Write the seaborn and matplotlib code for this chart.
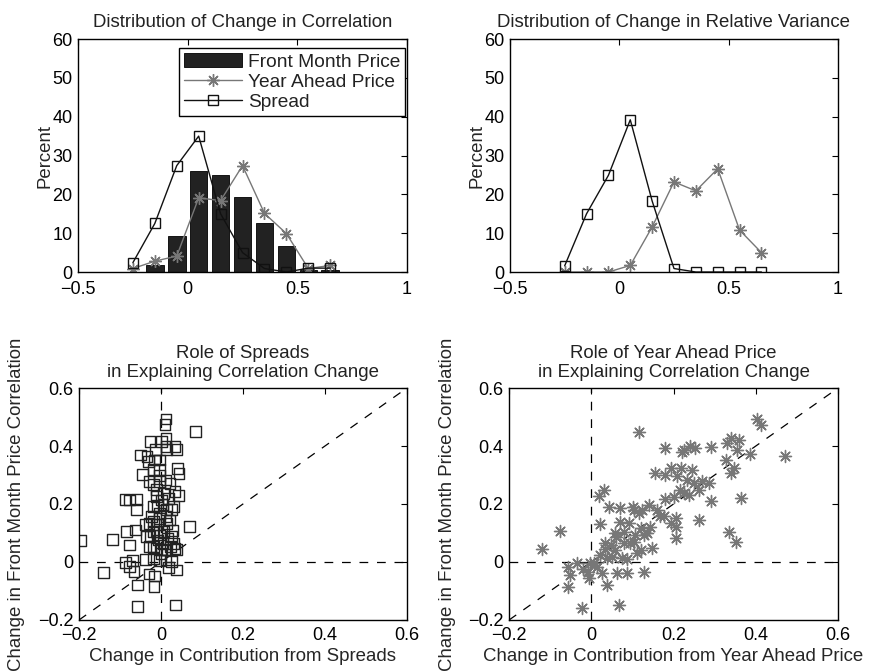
import matplotlib
matplotlib.use("Agg")
import matplotlib.pyplot as plt
import pandas as pd
import seaborn as sns

# bin centres for the two distribution panels
bin_centers = [-0.25, -0.15, -0.05, 0.05, 0.15, 0.25, 0.35, 0.45, 0.55, 0.65]

# distribution of change in correlation (percent)
corr_front = [0.0, 1.7, 9.2, 25.9, 25.0, 19.2, 12.5, 6.6, 0.6, 0.6]
corr_year = [0.9, 2.8, 4.1, 19.1, 18.4, 27.4, 15.1, 9.9, 0.9, 1.7]
corr_spread = [2.4, 12.5, 27.4, 35.0, 15.0, 5.0, 0.9, 0.0, 1.0, 1.0]

# distribution of change in relative variance (percent)
var_year = [0.0, 0.0, 0.0, 1.7, 11.6, 23.2, 20.9, 26.6, 10.8, 5.0]
var_spread = [1.6, 15.0, 24.9, 39.2, 18.3, 0.9, 0.0, 0.0, 0.0, 0.0]

# role of spreads: change in contribution from spreads vs change in front month correlation
spread_x = [-0.197, -0.141, -0.119, -0.088, -0.076, -0.060, -0.060, -0.084, -0.063, -0.076,
            -0.086, -0.076, -0.069, -0.066, -0.057, -0.058, -0.050, -0.034, -0.045, -0.027,
            0.001, 0.012, 0.010, 0.012, -0.013, -0.015, -0.018, -0.003, -0.004, -0.029,
            -0.019, -0.011, 0.012, 0.012, 0.014, 0.034, 0.038, 0.040, 0.044, 0.034,
            0.043, 0.085, 0.069, -0.019, -0.009, 0.005, 0.014, 0.026, -0.003, 0.012,
            -0.037, -0.029, -0.019, -0.009, 0.014, -0.027, -0.019, -0.003, 0.007, 0.026,
            0.030, -0.028, -0.019, -0.011, 0.001, 0.014, 0.023, 0.038, -0.037, -0.018,
            -0.003, 0.012, 0.026, 0.018, 0.038, -0.029, -0.015, -0.017, 0.036, -0.011,
            0.001, 0.007, 0.018, -0.003, 0.020, 0.030, -0.023, -0.011, 0.015, 0.005,
            -0.007, -0.035, 0.034, 0.000, -0.031, -0.003, 0.022, -0.003, 0.028]
spread_y = [0.073, -0.037, 0.078, 0.216, 0.214, 0.216, 0.182, 0.105, 0.110, 0.059,
            -0.002, -0.016, 0.005, -0.033, -0.079, -0.154, 0.369, 0.364, 0.303, 0.416,
            0.416, 0.493, 0.473, 0.427, 0.387, 0.352, 0.320, 0.320, 0.297, 0.277,
            0.266, 0.249, 0.283, 0.398, 0.387, 0.398, 0.389, 0.323, 0.306, 0.243,
            0.229, 0.450, 0.122, 0.191, 0.195, 0.197, 0.182, 0.180, 0.168, 0.157,
            0.128, 0.134, 0.139, 0.128, 0.134, 0.087, 0.105, 0.093, 0.105, 0.087,
            0.064, 0.053, 0.053, 0.047, 0.044, 0.041, 0.053, 0.044, 0.009, 0.013,
            0.005, 0.007, 0.001, -0.018, -0.028, -0.041, -0.048, -0.085, -0.148, 0.226,
            0.214, 0.237, 0.220, 0.151, 0.145, 0.191, 0.157, 0.105, 0.082, 0.064,
            0.076, 0.087, 0.047, 0.030, 0.346, 0.277, 0.272, 0.352, 0.108]

# role of year ahead price
year_x = [-0.121, -0.076, -0.056, -0.052, -0.056, -0.034, -0.022, -0.007, -0.005, 0.018,
          0.030, 0.022, 0.044, 0.034, 0.034, 0.022, 0.014, 0.026, 0.038, 0.048,
          0.061, 0.058, 0.069, 0.069, 0.063, 0.067, 0.075, 0.086, 0.087, 0.079,
          0.091, 0.102, 0.104, 0.104, 0.111, 0.115, 0.115, 0.120, 0.128, 0.128,
          0.140, 0.142, 0.148, 0.156, 0.168, 0.180, 0.180, 0.180, 0.193, 0.205,
          0.207, 0.207, 0.209, 0.215, 0.219, 0.221, 0.225, 0.233, 0.237, 0.241,
          0.245, 0.253, 0.262, 0.262, 0.268, 0.287, 0.291, 0.291, 0.328, 0.331,
          0.336, 0.340, 0.340, 0.346, 0.351, 0.355, 0.359, 0.363, 0.387, 0.403,
          0.413, 0.472, 0.095, 0.107, 0.120, 0.136, 0.160, 0.176, 0.193, 0.124,
          0.050, 0.058, 0.079, 0.007, -0.002, 0.038, -0.019, 0.200, 0.249, 0.225]
year_y = [0.045, 0.107, -0.016, -0.045, -0.087, -0.002, -0.157, -0.033, -0.054, 0.228,
          0.249, 0.131, 0.191, 0.064, 0.044, 0.024, -0.016, -0.037, -0.079, 0.059,
          0.087, 0.101, 0.139, 0.185, -0.037, -0.148, 0.013, -0.037, 0.009, 0.105,
          0.134, 0.191, 0.180, 0.070, 0.030, 0.450, 0.168, 0.041, 0.093, -0.033,
          0.197, 0.122, 0.047, 0.306, 0.157, 0.300, 0.393, 0.216, 0.323, 0.151,
          0.120, 0.082, 0.295, 0.249, 0.323, 0.381, 0.387, 0.283, 0.231, 0.401,
          0.318, 0.393, 0.249, 0.145, 0.280, 0.272, 0.396, 0.212, 0.352, 0.410,
          0.105, 0.427, 0.306, 0.323, 0.070, 0.387, 0.421, 0.220, 0.373, 0.493,
          0.473, 0.364, 0.064, 0.093, 0.116, 0.099, 0.180, 0.157, 0.134, 0.180,
          0.018, 0.041, 0.064, -0.005, -0.005, 0.013, -0.025, 0.225, 0.272, 0.237]

sns.set_theme(style="white")
plt.rcParams["font.family"] = ["Liberation Sans", "DejaVu Sans"]
plt.rcParams.update({
    "xtick.direction": "in",
    "ytick.direction": "in",
    "xtick.top": True,
    "ytick.right": True,
    "xtick.major.size": 4,
    "ytick.major.size": 4,
    "xtick.major.width": 0.8,
    "ytick.major.width": 0.8,
    "axes.edgecolor": "black",
    "axes.linewidth": 1.0,
    "xtick.color": "black",
    "ytick.color": "black",
    "text.color": "#222222",
})

asterisk = (8, 2, 0)
TICK = 13
LABEL = 13.4
TITLE = 13.4
GRAY = "#777777"
DARK = "#111111"
MINUS = "\u2212"

fig = plt.figure(figsize=(8.69, 6.72), dpi=100)
ax_tl = fig.add_axes([0.0898, 0.5952, 0.3786, 0.3467])
ax_tr = fig.add_axes([0.5869, 0.5952, 0.3774, 0.3467])
ax_bl = fig.add_axes([0.0909, 0.0774, 0.3774, 0.3452])
ax_br = fig.add_axes([0.5858, 0.0774, 0.3786, 0.3452])

dist = pd.DataFrame({
    "bin": bin_centers,
    "corr_front": corr_front,
    "corr_year": corr_year,
    "corr_spread": corr_spread,
    "var_year": var_year,
    "var_spread": var_spread,
})

year_style = dict(color=GRAY, marker=asterisk, markersize=9, markeredgecolor=GRAY,
                  markeredgewidth=1.0, linewidth=1.0, linestyle="-")
spread_style = dict(color=DARK, marker="s", markersize=7, markerfacecolor="none",
                    markeredgecolor=DARK, markeredgewidth=1.0, linewidth=1.0,
                    linestyle="-")

# top left: distribution of change in correlation
sns.barplot(data=dist, x="bin", y="corr_front", native_scale=True, width=0.8,
            color="#222222", saturation=1, edgecolor="black", linewidth=0.6,
            errorbar=None, ax=ax_tl, label="Front Month Price")
sns.lineplot(data=dist, x="bin", y="corr_year", ax=ax_tl, label="Year Ahead Price",
             **year_style)
sns.lineplot(data=dist, x="bin", y="corr_spread", ax=ax_tl, label="Spread",
             **spread_style)
handles, labels = ax_tl.get_legend_handles_labels()
order = ["Front Month Price", "Year Ahead Price", "Spread"]
hmap = dict(zip(labels, handles))
leg = ax_tl.legend([hmap[k] for k in order], order, loc="upper right", fontsize=13.8,
                   frameon=True, fancybox=False, edgecolor="black", framealpha=1,
                   borderpad=0.25, labelspacing=0.15, handlelength=3.0,
                   handletextpad=0.35, borderaxespad=0.0,
                   bbox_to_anchor=(0.995, 0.96))
leg.get_frame().set_linewidth(1.0)
ax_tl.set_title("Distribution of Change in Correlation", fontsize=TITLE, pad=9)

# top right: distribution of change in relative variance
sns.lineplot(data=dist, x="bin", y="var_year", ax=ax_tr, **year_style)
sns.lineplot(data=dist, x="bin", y="var_spread", ax=ax_tr, **spread_style)
ax_tr.set_title("Distribution of Change in Relative Variance", fontsize=TITLE, pad=9)

for ax in (ax_tl, ax_tr):
    ax.set_xlim(-0.5, 1)
    ax.set_ylim(0, 60)
    ax.set_xticks([-0.5, 0, 0.5, 1])
    ax.set_xticklabels([MINUS + "0.5", "0", "0.5", "1"])
    ax.set_yticks(range(0, 61, 10))
    ax.set_xlabel("")
    ax.set_ylabel("Percent", fontsize=LABEL, labelpad=-1)
    ax.tick_params(axis="x", labelsize=TICK, pad=6.5)
    ax.tick_params(axis="y", labelsize=TICK, pad=4)

# bottom panels: scatter with reference lines
sns.scatterplot(x=spread_x, y=spread_y, marker="s", s=60, facecolor="none",
                edgecolor="#222222", linewidth=1.0, ax=ax_bl)
sns.scatterplot(x=year_x, y=year_y, marker=asterisk, s=75, color=GRAY,
                edgecolor=GRAY, linewidth=1.0, ax=ax_br)

ax_bl.set_title("Role of Spreads\nin Explaining Correlation Change", fontsize=TITLE,
                pad=8, linespacing=1.15)
ax_br.set_title("Role of Year Ahead Price\nin Explaining Correlation Change",
                fontsize=TITLE, pad=8, linespacing=1.15)
ax_bl.set_xlabel("Change in Contribution from Spreads", fontsize=LABEL, labelpad=3)
ax_br.set_xlabel("Change in Contribution from Year Ahead Price", fontsize=LABEL, labelpad=3)

ticks = [-0.2, 0, 0.2, 0.4, 0.6]
tick_labels = [MINUS + "0.2", "0", "0.2", "0.4", "0.6"]
for ax in (ax_bl, ax_br):
    ax.axhline(0, color="black", linestyle=(0, (7, 7)), linewidth=0.9, zorder=0)
    ax.axvline(0, color="black", linestyle=(0, (7, 7)), linewidth=0.9, zorder=0)
    ax.plot([-0.2, 0.6], [-0.2, 0.6], color="black", linestyle=(0, (7, 7)),
            linewidth=0.9, zorder=0)
    ax.set_xlim(-0.2, 0.6)
    ax.set_ylim(-0.2, 0.6)
    ax.set_xticks(ticks)
    ax.set_xticklabels(tick_labels)
    ax.set_yticks(ticks)
    ax.set_yticklabels(tick_labels)
    ax.set_ylabel("Change in Front Month Price Correlation", fontsize=LABEL, labelpad=9)
    ax.tick_params(axis="x", labelsize=TICK, pad=5)
    ax.tick_params(axis="y", labelsize=TICK, pad=4)

fig.savefig("out.png", dpi=100)
